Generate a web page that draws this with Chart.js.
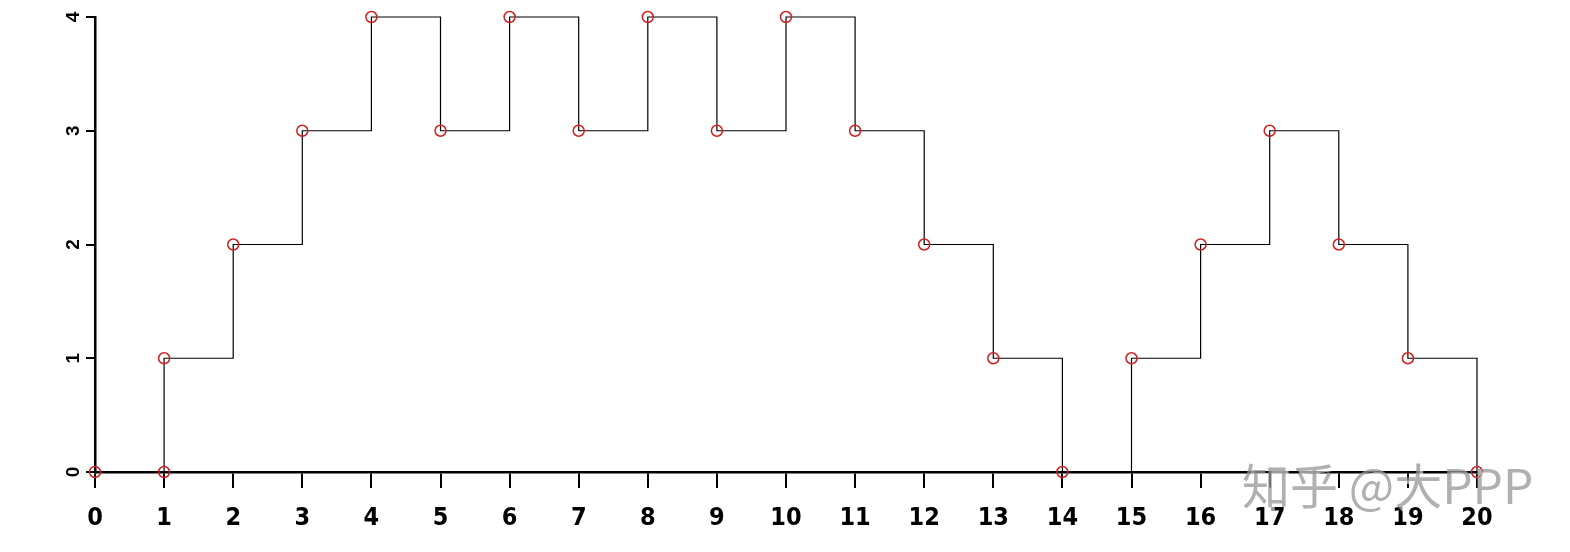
<!DOCTYPE html>
<html>
<head>
<meta charset="utf-8">
<script src="https://cdn.jsdelivr.net/npm/chart.js@4/dist/chart.umd.min.js"></script>
<style>
  html, body { margin: 0; padding: 0; background: #fff; }
  #wrap { width: 1570px; height: 552px; position: relative; }
</style>
</head>
<body>
<div id="wrap"><canvas id="grafico"></canvas></div>
<script>
// step values, x = 1 appears twice (before and after the jump)
const xVals = [0, 1, 1, 2, 3, 4, 5, 6, 7, 8, 9, 10, 11, 12, 13, 14, 15, 16, 17, 18, 19, 20];
const yVals = [0, 0, 1, 2, 3, 4, 3, 4, 3, 4, 3, 4, 3, 2, 1, 0, 1, 2, 3, 2, 1, 0];
const xTicks = [0, 1, 2, 3, 4, 5, 6, 7, 8, 9, 10, 11, 12, 13, 14, 15, 16, 17, 18, 19, 20];
const yTicks = [0, 1, 2, 3, 4];
const marca = '知乎 @大PPP';

const pontos = xVals.map((x, i) => ({ x: x, y: yVals[i] }));

const marcaDagua = {
  id: 'marcaDagua',
  afterDraw(chart) {
    const c = chart.ctx;
    c.save();
    c.font = '48px "Noto Sans CJK SC"';
    c.textBaseline = 'middle';
    c.textAlign = 'left';
    c.fillStyle = 'rgba(255,255,255,0.6)';
    c.fillText(marca, 1245, 489);
    c.fillStyle = 'rgba(150,150,150,0.75)';
    c.fillText(marca, 1242, 486);
    c.restore();
  }
};

const ctx = document.getElementById('grafico').getContext('2d');

let grafico = new Chart(ctx, {
  type: 'line',
  data: {
    datasets: [{
      data: pontos,
      stepped: 'before',
      borderColor: '#000',
      borderWidth: 1.2,
      pointStyle: 'circle',
      pointRadius: 5.5,
      pointBorderColor: '#d21f1f',
      pointBackgroundColor: 'rgba(0,0,0,0)',
      pointBorderWidth: 1.5,
      fill: false,
      clip: false
    }]
  },
  options: {
    responsive: true,
    maintainAspectRatio: false,
    animation: false,
    layout: { padding: { top: 17, right: 93, left: 0, bottom: 0 } },
    plugins: {
      legend: { display: false },
      tooltip: { enabled: false }
    },
    scales: {
      x: {
        type: 'linear',
        min: 0,
        max: 20,
        afterBuildTicks: (s) => { s.ticks = xTicks.map(v => ({ value: v })); },
        afterFit: (s) => { s.height = 80; s.paddingLeft = 0; s.paddingRight = 0; },
        border: { display: true, color: '#000', width: 2.5 },
        grid: { drawOnChartArea: false, color: '#000', lineWidth: 2, tickLength: 16 },
        ticks: {
          color: '#000',
          padding: 15,
          maxRotation: 0,
          font: { family: '"DejaVu Sans Condensed", "Liberation Sans Narrow", "Liberation Sans"', size: 25, weight: 'bold' }
        }
      },
      y: {
        min: 0,
        max: 4,
        afterBuildTicks: (s) => { s.ticks = yTicks.map(v => ({ value: v })); },
        afterFit: (s) => { s.width = 95; s.paddingTop = 0; s.paddingBottom = 0; },
        afterCalculateLabelRotation: (s) => { s.labelRotation = 90; },
        border: { display: true, color: '#000', width: 2.5 },
        grid: { drawOnChartArea: false, color: '#000', lineWidth: 2, tickLength: 9 },
        ticks: {
          color: '#000',
          padding: 7,
          crossAlign: 'center',
          font: { family: '"Liberation Sans"', size: 19, weight: 'bold' }
        }
      }
    }
  },
  plugins: [marcaDagua]
});
</script>
</body>
</html>
